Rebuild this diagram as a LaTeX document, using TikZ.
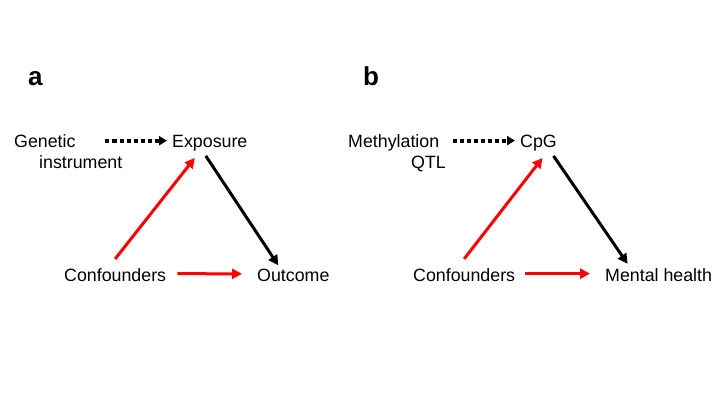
\documentclass[tikz,border=0pt]{standalone}
\usepackage{fontspec}
\setmainfont{Liberation Sans}
\usepackage{xcolor}
\usepackage{tikz}
\usetikzlibrary{arrows.meta, positioning, calc}

\begin{document}
\begin{tikzpicture}[x=1pt,y=-1pt,>={Triangle[length=10pt,width=10pt]},
            lbl/.style={inner sep=0pt, font=\fontsize{17.8}{21}\selectfont},
            panel/.style={inner sep=0pt, font=\fontsize{26}{30}\selectfont\bfseries},
            redarrow/.style={->, draw=red, line width=3pt},
            blackarrow/.style={->, draw=black, line width=3pt},
            dotarrow/.style={-{Triangle[length=8pt,width=9pt]}, line width=4pt, dash pattern=on 4pt off 3pt}]
            \fill[white] (0,0) rectangle (720,405);

            % panel a
            \node[panel, anchor=base west] (pa) at (28,85) {a};
            \node[lbl, anchor=north west, align=left] (gen) at (14,134) {Genetic\\\hspace*{25pt}instrument};
            \node[lbl, anchor=base west] (expo) at (172,147) {Exposure};
            \node[lbl, anchor=base west] (conf) at (64,281) {Confounders};
            \node[lbl, anchor=base west] (outc) at (257,281) {Outcome};

            \draw[dotarrow] ($(gen.east |- expo.west)+(-17,-2)$) -- ([xshift=-5pt,yshift=2pt]expo.west);
            \draw[redarrow] ([yshift=9pt]conf.north) -- ([xshift=-15pt,yshift=-7pt]expo.south);
            \draw[blackarrow] ([xshift=-4pt,yshift=-5pt]expo.south) -- ([xshift=-15pt,yshift=3pt]outc.north);
            \draw[redarrow] ([xshift=11pt,yshift=1pt]conf.east) -- ([xshift=-15pt,yshift=1pt]outc.west);

            % panel b
            \node[panel, anchor=base west] (pb) at (363,85) {b};
            \node[lbl, anchor=north west, align=left] (meth) at (348,134) {Methylation\\\hspace*{63pt}QTL};
            \node[lbl, anchor=base west] (cpg) at (520,147) {CpG};
            \node[lbl, anchor=base west] (conf2) at (413,281) {Confounders};
            \node[lbl, anchor=base west] (mh) at (605,281) {Mental health};

            \draw[dotarrow] ($(meth.east |- cpg.west)+(7,-2)$) -- ([xshift=-5pt,yshift=2pt]cpg.west);
            \draw[redarrow] ([yshift=9pt]conf2.north) -- ([xshift=4pt,yshift=-7pt]cpg.south);
            \draw[blackarrow] ([xshift=15pt,yshift=-5pt]cpg.south) -- ([xshift=-31pt,yshift=4pt]mh.north);
            \draw[redarrow] ([xshift=10pt,yshift=1pt]conf2.east) -- ([xshift=-15pt,yshift=1pt]mh.west);
\end{tikzpicture}
\end{document}
